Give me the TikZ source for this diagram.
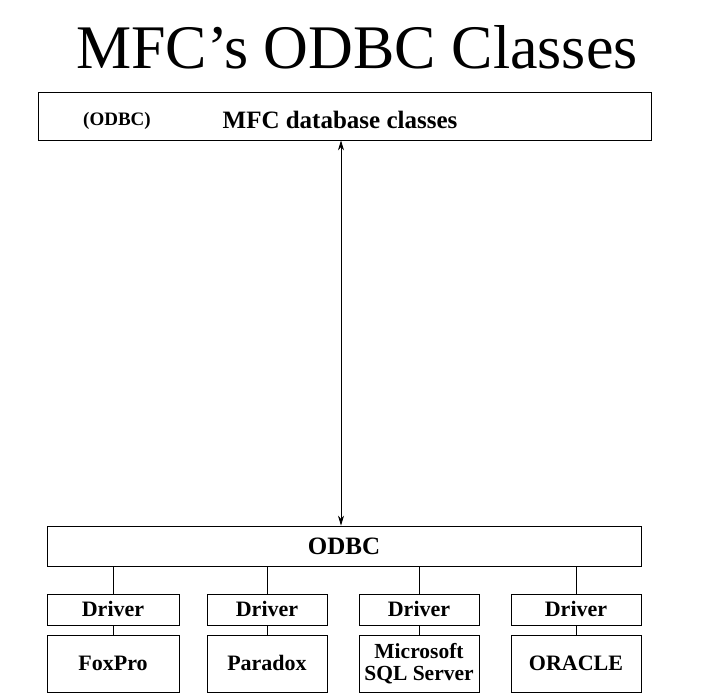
\documentclass[tikz,border=0pt]{standalone}
\usepackage{fontspec}
\setmainfont{Liberation Serif}
\usetikzlibrary{arrows.meta}
\begin{document}
\begin{tikzpicture}[>={Stealth[length=10pt,width=6pt]}, x=1pt, y=-1pt, line width=0.8pt,
    box/.style={draw, inner sep=0pt, minimum height=#1, align=center},
    lbl/.style={font=\bfseries\fontsize{22}{22}\selectfont, text height=15pt, text depth=1pt}]
        \useasboundingbox (0,0) rectangle (714,693);
        \node (title) at (357,47) {\fontsize{62}{62}\selectfont MFC’s ODBC Classes};
        \node [box=48pt, minimum width=613pt] (mfc) at (344.5,116) {};
        \node [font=\bfseries\fontsize{19}{19}\selectfont] (odbctag) at (117,121) {(ODBC)};
        \node [font=\bfseries\fontsize{25}{25}\selectfont] (mfclbl) at (340,120) {MFC database classes};
        \node [box=40pt, minimum width=594pt, font=\bfseries\fontsize{25}{25}\selectfont] (odbc) at (344,546) {ODBC};
        \node [box=31pt, minimum width=132pt, lbl] (drv1) at (113,609.5) {Driver};
        \node [box=31pt, minimum width=120pt, lbl] (drv2) at (267,609.5) {Driver};
        \node [box=31pt, minimum width=120pt, lbl] (drv3) at (419,609.5) {Driver};
        \node [box=31pt, minimum width=130pt, lbl] (drv4) at (576,609.5) {Driver};
        \node [box=57pt, minimum width=132pt, lbl] (db1) at (113,663.5) {FoxPro};
        \node [box=57pt, minimum width=120pt, lbl] (db2) at (267,663.5) {Paradox};
        \node [box=57pt, minimum width=120pt, font=\bfseries\fontsize{21.5}{22}\selectfont] (db3) at (419,663.5) {Microsoft\\SQL Server};
        \node [box=57pt, minimum width=130pt, lbl] (db4) at (576,663.5) {ORACLE};
        \coordinate (ax) at (341,0);
        \draw [<->] (mfc.south -| ax) -- (odbc.north -| ax);
        \foreach \i in {1,...,4}{
            \draw (odbc.south -| drv\i) -- (drv\i);
            \draw (drv\i) -- (db\i);
        }
    \end{tikzpicture}
\end{document}
